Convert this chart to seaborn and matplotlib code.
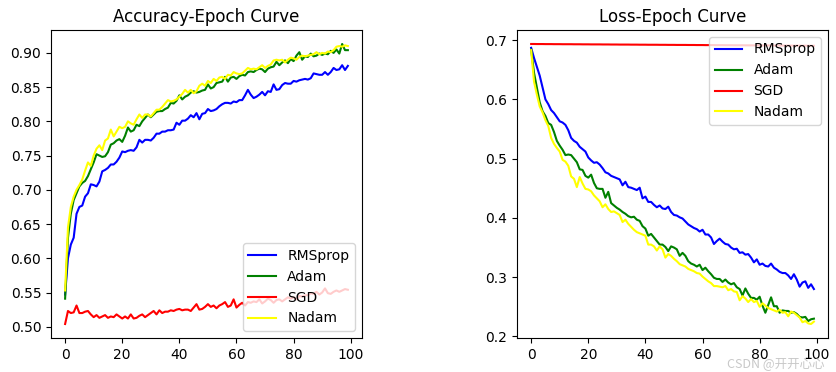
import numpy as np
import matplotlib
matplotlib.use("Agg")
import matplotlib.pyplot as plt
import seaborn as sns

# Values (100 epochs each)
epochs = list(range(100))
optimizers = ["RMSprop", "Adam", "SGD", "Nadam"]
colors = ["blue", "green", "red", "yellow"]

acc_rmsprop = [
    0.547, 0.600, 0.620, 0.630, 0.665, 0.675, 0.677, 0.690, 0.695, 0.708,
    0.707, 0.705, 0.712, 0.727, 0.729, 0.732, 0.737, 0.737, 0.741, 0.747,
    0.756, 0.755, 0.757, 0.758, 0.757, 0.762, 0.773, 0.769, 0.773, 0.773,
    0.772, 0.776, 0.782, 0.782, 0.785, 0.785, 0.787, 0.787, 0.788, 0.798,
    0.795, 0.801, 0.801, 0.804, 0.809, 0.806, 0.812, 0.803, 0.811, 0.812,
    0.818, 0.815, 0.816, 0.818, 0.822, 0.825, 0.827, 0.827, 0.826, 0.829,
    0.828, 0.831, 0.831, 0.838, 0.846, 0.839, 0.834, 0.836, 0.839, 0.843,
    0.838, 0.844, 0.843, 0.854, 0.846, 0.847, 0.853, 0.856, 0.855, 0.855,
    0.859, 0.858, 0.860, 0.861, 0.862, 0.861, 0.863, 0.870, 0.869, 0.868,
    0.868, 0.872, 0.868, 0.872, 0.878, 0.875, 0.876, 0.882, 0.875, 0.881,
]
acc_adam = [
    0.541, 0.630, 0.665, 0.685, 0.695, 0.705, 0.710, 0.713, 0.720, 0.730,
    0.740, 0.752, 0.750, 0.748, 0.749, 0.755, 0.766, 0.768, 0.772, 0.774,
    0.770, 0.779, 0.791, 0.785, 0.787, 0.795, 0.793, 0.800, 0.805, 0.810,
    0.806, 0.810, 0.814, 0.815, 0.815, 0.818, 0.820, 0.827, 0.826, 0.830,
    0.838, 0.832, 0.836, 0.838, 0.842, 0.844, 0.842, 0.843, 0.845, 0.846,
    0.854, 0.848, 0.850, 0.856, 0.857, 0.858, 0.865, 0.858, 0.864, 0.865,
    0.862, 0.866, 0.868, 0.867, 0.872, 0.873, 0.872, 0.875, 0.877, 0.876,
    0.872, 0.877, 0.879, 0.880, 0.887, 0.882, 0.886, 0.889, 0.885, 0.891,
    0.888, 0.896, 0.901, 0.890, 0.895, 0.894, 0.899, 0.895, 0.896, 0.899,
    0.897, 0.899, 0.898, 0.903, 0.900, 0.905, 0.899, 0.913, 0.904, 0.904,
]
acc_sgd = [
    0.504, 0.523, 0.520, 0.521, 0.531, 0.520, 0.520, 0.522, 0.523, 0.518,
    0.514, 0.517, 0.513, 0.515, 0.517, 0.513, 0.515, 0.514, 0.518, 0.515,
    0.512, 0.515, 0.512, 0.518, 0.512, 0.513, 0.516, 0.518, 0.514, 0.517,
    0.520, 0.523, 0.518, 0.524, 0.520, 0.522, 0.522, 0.524, 0.523, 0.525,
    0.526, 0.524, 0.525, 0.525, 0.523, 0.528, 0.533, 0.525, 0.526, 0.529,
    0.533, 0.529, 0.531, 0.527, 0.531, 0.533, 0.536, 0.529, 0.531, 0.540,
    0.528, 0.532, 0.535, 0.531, 0.536, 0.535, 0.537, 0.536, 0.540, 0.534,
    0.537, 0.541, 0.539, 0.535, 0.539, 0.540, 0.537, 0.540, 0.543, 0.541,
    0.543, 0.540, 0.545, 0.544, 0.546, 0.546, 0.549, 0.548, 0.551, 0.547,
    0.550, 0.556, 0.549, 0.548, 0.551, 0.553, 0.551, 0.553, 0.555, 0.554,
]
acc_nadam = [
    0.553, 0.645, 0.675, 0.690, 0.700, 0.707, 0.715, 0.728, 0.740, 0.735,
    0.750, 0.760, 0.765, 0.758, 0.772, 0.775, 0.788, 0.778, 0.785, 0.792,
    0.790, 0.792, 0.800, 0.797, 0.795, 0.803, 0.810, 0.805, 0.810, 0.810,
    0.807, 0.812, 0.817, 0.817, 0.821, 0.826, 0.831, 0.829, 0.830, 0.832,
    0.836, 0.840, 0.846, 0.842, 0.846, 0.841, 0.844, 0.852, 0.855, 0.852,
    0.859, 0.856, 0.862, 0.859, 0.864, 0.865, 0.862, 0.868, 0.867, 0.872,
    0.870, 0.869, 0.870, 0.874, 0.878, 0.876, 0.877, 0.876, 0.879, 0.882,
    0.878, 0.881, 0.883, 0.889, 0.890, 0.889, 0.890, 0.886, 0.890, 0.893,
    0.892, 0.890, 0.894, 0.896, 0.895, 0.896, 0.897, 0.898, 0.901, 0.898,
    0.900, 0.899, 0.902, 0.901, 0.904, 0.909, 0.910, 0.909, 0.911, 0.910,
]

loss_rmsprop = [
    0.687, 0.670, 0.655, 0.640, 0.620, 0.600, 0.592, 0.582, 0.577, 0.570,
    0.563, 0.561, 0.557, 0.548, 0.535, 0.530, 0.527, 0.520, 0.516, 0.512,
    0.502, 0.497, 0.493, 0.494, 0.490, 0.484, 0.477, 0.475, 0.471, 0.469,
    0.467, 0.465, 0.455, 0.461, 0.452, 0.451, 0.449, 0.447, 0.451, 0.433,
    0.436, 0.427, 0.427, 0.422, 0.418, 0.421, 0.416, 0.415, 0.419, 0.410,
    0.405, 0.404, 0.401, 0.399, 0.394, 0.389, 0.386, 0.383, 0.381, 0.377,
    0.380, 0.372, 0.372, 0.367, 0.356, 0.361, 0.365, 0.360, 0.356, 0.355,
    0.350, 0.347, 0.348, 0.341, 0.342, 0.338, 0.339, 0.333, 0.325, 0.330,
    0.321, 0.323, 0.319, 0.318, 0.323, 0.316, 0.313, 0.309, 0.307, 0.307,
    0.303, 0.297, 0.305, 0.296, 0.284, 0.291, 0.293, 0.282, 0.288, 0.280,
]
loss_adam = [
    0.684, 0.645, 0.620, 0.595, 0.580, 0.572, 0.560, 0.557, 0.545, 0.530,
    0.522, 0.515, 0.506, 0.507, 0.506, 0.500, 0.494, 0.482, 0.481, 0.471,
    0.468, 0.473, 0.459, 0.450, 0.449, 0.449, 0.434, 0.444, 0.425, 0.421,
    0.417, 0.414, 0.410, 0.407, 0.403, 0.401, 0.402, 0.397, 0.395, 0.386,
    0.382, 0.370, 0.373, 0.367, 0.361, 0.355, 0.355, 0.351, 0.344, 0.352,
    0.350, 0.347, 0.336, 0.341, 0.336, 0.327, 0.323, 0.321, 0.318, 0.321,
    0.312, 0.316, 0.310, 0.305, 0.299, 0.297, 0.297, 0.292, 0.296, 0.291,
    0.288, 0.290, 0.283, 0.280, 0.269, 0.281, 0.272, 0.265, 0.265, 0.262,
    0.267, 0.252, 0.240, 0.253, 0.266, 0.251, 0.251, 0.240, 0.244, 0.243,
    0.243, 0.240, 0.241, 0.238, 0.233, 0.232, 0.233, 0.226, 0.229, 0.230,
]
loss_sgd = [
    0.6935, 0.6935, 0.6934, 0.6934, 0.6934, 0.6933, 0.6933, 0.6933, 0.6932, 0.6932,
    0.6932, 0.6931, 0.6931, 0.6931, 0.6931, 0.6930, 0.6930, 0.6930, 0.6929, 0.6929,
    0.6929, 0.6928, 0.6928, 0.6928, 0.6928, 0.6927, 0.6927, 0.6927, 0.6926, 0.6926,
    0.6926, 0.6925, 0.6925, 0.6925, 0.6925, 0.6924, 0.6924, 0.6924, 0.6923, 0.6923,
    0.6923, 0.6922, 0.6922, 0.6922, 0.6922, 0.6921, 0.6921, 0.6921, 0.6920, 0.6920,
    0.6920, 0.6919, 0.6919, 0.6919, 0.6919, 0.6918, 0.6918, 0.6918, 0.6917, 0.6917,
    0.6917, 0.6916, 0.6916, 0.6916, 0.6916, 0.6915, 0.6915, 0.6915, 0.6914, 0.6914,
    0.6914, 0.6913, 0.6913, 0.6913, 0.6913, 0.6912, 0.6912, 0.6912, 0.6911, 0.6911,
    0.6911, 0.6910, 0.6910, 0.6910, 0.6910, 0.6909, 0.6909, 0.6909, 0.6908, 0.6908,
    0.6908, 0.6907, 0.6907, 0.6907, 0.6907, 0.6906, 0.6906, 0.6906, 0.6905, 0.6905,
]
loss_nadam = [
    0.683, 0.630, 0.608, 0.588, 0.578, 0.565, 0.555, 0.535, 0.525, 0.518,
    0.512, 0.498, 0.495, 0.488, 0.470, 0.466, 0.452, 0.469, 0.458, 0.449,
    0.448, 0.445, 0.438, 0.433, 0.428, 0.418, 0.423, 0.415, 0.410, 0.411,
    0.408, 0.405, 0.393, 0.397, 0.390, 0.385, 0.380, 0.376, 0.374, 0.372,
    0.370, 0.355, 0.355, 0.352, 0.345, 0.352, 0.347, 0.333, 0.339, 0.336,
    0.331, 0.327, 0.322, 0.320, 0.318, 0.314, 0.312, 0.310, 0.307, 0.306,
    0.301, 0.297, 0.293, 0.290, 0.285, 0.285, 0.284, 0.283, 0.285, 0.278,
    0.280, 0.276, 0.275, 0.261, 0.268, 0.264, 0.258, 0.263, 0.258, 0.260,
    0.250, 0.256, 0.252, 0.248, 0.246, 0.244, 0.242, 0.245, 0.240, 0.241,
    0.234, 0.242, 0.240, 0.236, 0.232, 0.224, 0.226, 0.222, 0.221, 0.225,
]

acc_series = [acc_rmsprop, acc_adam, acc_sgd, acc_nadam]
loss_series = [loss_rmsprop, loss_adam, loss_sgd, loss_nadam]

fig = plt.figure(figsize=(8.37, 3.72), dpi=100)
ax1 = fig.add_axes([0.0609, 0.0914, 0.3716, 0.828])
ax2 = fig.add_axes([0.6177, 0.0914, 0.3716, 0.828])

# accuracy curves
for name, vals, c in zip(optimizers, acc_series, colors):
    sns.lineplot(x=epochs, y=vals, color=c, label=name, ax=ax1)
ax1.set_title("Accuracy-Epoch Curve")
ax1.legend(loc="lower right")

# loss curves
for name, vals, c in zip(optimizers, loss_series, colors):
    sns.lineplot(x=epochs, y=vals, color=c, label=name, ax=ax2)
ax2.set_title("Loss-Epoch Curve")
ax2.legend(loc="upper right")

# faint site watermark in the corner, kept just under the tick labels
fig.text(0.985, 0.004, "CSDN @开开心心", ha="right", va="bottom", fontsize=9,
         color="#c8c8c8", family=["Noto Sans CJK SC", "DejaVu Sans"])

fig.savefig("out.png", dpi=100)
plt.close(fig)
